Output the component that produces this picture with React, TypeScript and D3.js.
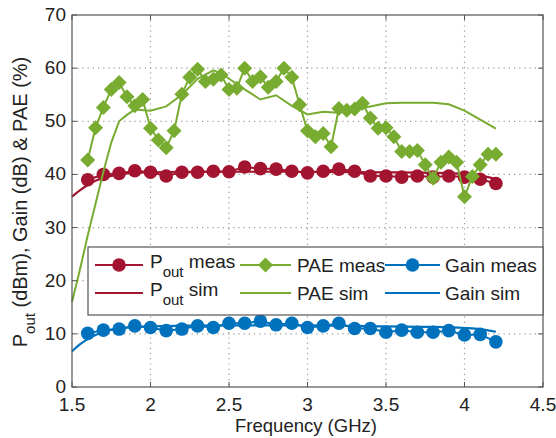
import * as d3 from 'd3'

const W = 556
const H = 438
const M = { left: 72, right: 543, top: 15, bottom: 387 }

const RED = '#A2142F'
const GREEN = '#77AC30'
const BLUE = '#0072BD'
const AXIS = '#555555'
const GRID = '#9a9a9a'
const FONT = "'Liberation Sans', Arial, Helvetica, sans-serif"

// measured (0.1 GHz steps)
const freqMeas = [1.6, 1.7, 1.8, 1.9, 2.0, 2.1, 2.2, 2.3, 2.4, 2.5, 2.6, 2.7, 2.8, 2.9, 3.0, 3.1, 3.2, 3.3, 3.4, 3.5, 3.6, 3.7, 3.8, 3.9, 4.0, 4.1, 4.2]
const poutMeas = [39.0, 40.0, 40.2, 40.7, 40.4, 39.7, 40.4, 40.4, 40.6, 40.5, 41.4, 41.1, 41.0, 40.6, 40.3, 40.6, 41.0, 40.6, 39.7, 39.7, 39.5, 39.7, 39.5, 39.7, 39.5, 39.1, 38.3]
const gainMeas = [10.1, 10.7, 10.9, 11.5, 11.2, 10.6, 10.9, 11.5, 11.2, 12.0, 12.0, 12.4, 11.7, 12.0, 11.2, 11.5, 12.0, 11.0, 11.0, 10.3, 10.7, 10.3, 10.3, 10.6, 9.8, 9.9, 8.5]

// measured PAE (0.05 GHz steps)
const freqPae = [
  1.6, 1.65, 1.7, 1.75, 1.8, 1.85, 1.9, 1.95, 2.0, 2.05, 2.1, 2.15, 2.2, 2.25, 2.3, 2.35, 2.4, 2.45,
  2.5, 2.55, 2.6, 2.65, 2.7, 2.75, 2.8, 2.85, 2.9, 2.95, 3.0, 3.05, 3.1, 3.15, 3.2, 3.25, 3.3, 3.35,
  3.4, 3.45, 3.5, 3.55, 3.6, 3.65, 3.7, 3.75, 3.8, 3.85, 3.9, 3.95, 4.0, 4.05, 4.1, 4.15, 4.2,
]
const paeMeas = [
  42.7, 48.8, 52.6, 56.0, 57.3, 54.6, 52.9, 54.1, 48.7, 46.5, 45.0, 48.2, 55.1, 58.3, 59.8, 57.5, 57.9, 58.7,
  56.0, 56.2, 60.0, 57.5, 58.4, 56.4, 57.5, 60.0, 58.3, 53.1, 48.2, 47.1, 47.7, 45.2, 52.4, 52.1, 52.3, 53.4,
  50.6, 48.7, 48.8, 47.1, 44.3, 44.3, 44.5, 41.8, 39.3, 42.3, 43.3, 42.3, 35.8, 39.6, 41.8, 43.8, 43.8,
]

// simulated
const freqPoutSim = [1.5, 1.55, 1.6, 1.65, 1.7, 1.8, 1.9, 2.0, 2.2, 2.5, 3.0, 3.5, 3.8, 4.0, 4.1, 4.15, 4.2]
const poutSim = [35.8, 37.0, 38.0, 38.8, 39.3, 40.0, 40.3, 40.4, 40.5, 40.5, 40.5, 40.4, 40.3, 40.1, 39.8, 39.5, 39.1]

const freqGainSim = [1.5, 1.55, 1.6, 1.65, 1.7, 1.8, 1.9, 2.0, 2.5, 3.0, 3.5, 3.8, 4.0, 4.1, 4.2]
const gainSim = [6.7, 8.0, 9.0, 9.8, 10.4, 11.0, 11.3, 11.4, 11.6, 11.6, 11.4, 11.3, 11.1, 10.9, 10.4]

const freqPaeSim = [
  1.5, 1.55, 1.6, 1.65, 1.7, 1.75, 1.8, 1.85, 1.9, 2.0, 2.1, 2.2, 2.3, 2.4, 2.45, 2.5, 2.6,
  2.7, 2.8, 2.9, 3.0, 3.1, 3.2, 3.3, 3.4, 3.5, 3.6, 3.7, 3.8, 3.9, 4.0, 4.1, 4.2,
]
const paeSim = [
  16, 22, 28.5, 34.5, 40.5, 46, 50, 51.2, 52.2, 52.0, 52.8, 55.0, 58.0, 59.6, 59.0, 58.0, 56.0,
  54.1, 54.9, 52.9, 51.3, 51.8, 51.6, 52.2, 52.8, 53.4, 53.5, 53.5, 53.5, 53.2, 52.0, 50.3, 48.6,
]

const xTicks = [1.5, 2, 2.5, 3, 3.5, 4, 4.5]
const yTicks = [0, 10, 20, 30, 40, 50, 60, 70]

const x = d3.scaleLinear().domain([1.5, 4.5]).range([M.left, M.right])
const y = d3.scaleLinear().domain([0, 70]).range([M.bottom, M.top])

const zip = (xs: number[], ys: number[]) => xs.map((f, i) => [f, ys[i]] as [number, number])

const lin = d3.line<[number, number]>().x((d) => x(d[0])).y((d) => y(d[1]))
const smooth = d3.line<[number, number]>().x((d) => x(d[0])).y((d) => y(d[1])).curve(d3.curveMonotoneX)

const diamond = (cx: number, cy: number, r: number) =>
  `M${cx},${cy - r}L${cx + r},${cy}L${cx},${cy + r}L${cx - r},${cy}Z`

function Label({ main, sub, rest, x0, y0 }: { main: string; sub?: string; rest: string; x0: number; y0: number }) {
  return (
    <text x={x0} y={y0} fontSize={19} fontFamily={FONT} fill="#222">
      {main}
      {sub ? (
        <>
          <tspan dy={9} fontSize={15}>{sub}</tspan>
          <tspan dy={-9}>{' ' + rest}</tspan>
        </>
      ) : (
        rest
      )}
    </text>
  )
}

export default function App() {
  const poutM = zip(freqMeas, poutMeas)
  const gainM = zip(freqMeas, gainMeas)
  const paeM = zip(freqPae, paeMeas)

  const lx = 88
  const ly = 247
  const row1 = 265
  const row2 = 293

  return (
    <svg width={W} height={H} style={{ position: 'absolute', left: 0, top: 0, background: '#fff' }}>
      <rect x={0} y={0} width={W} height={H} fill="#fff" />
      {/* grid */}
      {xTicks.slice(1, -1).map((t) => (
        <line key={'gx' + t} x1={x(t)} x2={x(t)} y1={M.top} y2={M.bottom} stroke={GRID} strokeWidth={1.2} strokeDasharray="1.2,4" />
      ))}
      {yTicks.slice(1, -1).map((t) => (
        <line key={'gy' + t} x1={M.left} x2={M.right} y1={y(t)} y2={y(t)} stroke={GRID} strokeWidth={1.2} strokeDasharray="1.2,4" />
      ))}

      {/* series */}
      <path d={lin(poutM) ?? ''} fill="none" stroke={RED} strokeWidth={2} />
      {poutM.map((d, i) => (
        <circle key={'pm' + i} cx={x(d[0])} cy={y(d[1])} r={6.8} fill={RED} />
      ))}
      <path d={smooth(zip(freqPoutSim, poutSim)) ?? ''} fill="none" stroke={RED} strokeWidth={2.2} />

      <path d={lin(paeM) ?? ''} fill="none" stroke={GREEN} strokeWidth={2} />
      {paeM.map((d, i) => (
        <path key={'am' + i} d={diamond(x(d[0]), y(d[1]), 7.5)} fill={GREEN} />
      ))}
      <path d={lin(zip(freqPaeSim, paeSim)) ?? ''} fill="none" stroke={GREEN} strokeWidth={2} />

      <path d={lin(gainM) ?? ''} fill="none" stroke={BLUE} strokeWidth={2} />
      {gainM.map((d, i) => (
        <circle key={'gm' + i} cx={x(d[0])} cy={y(d[1])} r={6.8} fill={BLUE} />
      ))}
      <path d={smooth(zip(freqGainSim, gainSim)) ?? ''} fill="none" stroke={BLUE} strokeWidth={2.2} />

      {/* axes box */}
      <rect x={M.left} y={M.top} width={M.right - M.left} height={M.bottom - M.top} fill="none" stroke={AXIS} strokeWidth={1.2} />
      {xTicks.map((t) => (
        <g key={'xt' + t}>
          <line x1={x(t)} x2={x(t)} y1={M.bottom} y2={M.bottom - 5} stroke={AXIS} />
          <line x1={x(t)} x2={x(t)} y1={M.top} y2={M.top + 5} stroke={AXIS} />
          <text x={x(t)} y={411} textAnchor="middle" fontSize={19} fontFamily={FONT} fill="#222">
            {t}
          </text>
        </g>
      ))}
      {yTicks.map((t) => (
        <g key={'yt' + t}>
          <line x1={M.left} x2={M.left + 5} y1={y(t)} y2={y(t)} stroke={AXIS} />
          <line x1={M.right} x2={M.right - 5} y1={y(t)} y2={y(t)} stroke={AXIS} />
          <text x={66} y={y(t) + 6} textAnchor="end" fontSize={19} fontFamily={FONT} fill="#222">
            {t}
          </text>
        </g>
      ))}

      {/* axis titles */}
      <text x={306} y={432} textAnchor="middle" fontSize={18.5} fontFamily={FONT} fill="#222">
        Frequency (GHz)
      </text>
      <text transform="translate(27,202) rotate(-90)" textAnchor="middle" fontSize={20} fontFamily={FONT} fill="#222">
        P<tspan dy={8} fontSize={15}>out</tspan>
        <tspan dy={-8}> (dBm), Gain (dB) &amp; PAE (%)</tspan>
      </text>

      {/* legend */}
      <rect x={lx} y={ly} width={M.right - lx} height={315 - ly} fill="#fff" stroke={AXIS} strokeWidth={1.2} />
      <line x1={95} x2={143} y1={row1} y2={row1} stroke={RED} strokeWidth={2} />
      <circle cx={119} cy={row1} r={6.8} fill={RED} />
      <Label main="P" sub="out" rest="meas" x0={150} y0={row1 + 3} />
      <line x1={95} x2={143} y1={row2} y2={row2} stroke={RED} strokeWidth={2.2} />
      <Label main="P" sub="out" rest="sim" x0={150} y0={row2 + 3} />

      <line x1={240} x2={291} y1={row1} y2={row1} stroke={GREEN} strokeWidth={2} />
      <path d={diamond(265.5, row1, 7.5)} fill={GREEN} />
      <Label main="PAE meas" rest="" x0={297} y0={row1 + 7} />
      <line x1={240} x2={291} y1={row2} y2={row2} stroke={GREEN} strokeWidth={2} />
      <Label main="PAE sim" rest="" x0={297} y0={row2 + 7} />

      <line x1={385} x2={440} y1={row1} y2={row1} stroke={BLUE} strokeWidth={2} />
      <circle cx={412.5} cy={row1} r={6.8} fill={BLUE} />
      <Label main="Gain meas" rest="" x0={445} y0={row1 + 7} />
      <line x1={385} x2={440} y1={row2} y2={row2} stroke={BLUE} strokeWidth={2.2} />
      <Label main="Gain sim" rest="" x0={445} y0={row2 + 7} />
    </svg>
  )
}
